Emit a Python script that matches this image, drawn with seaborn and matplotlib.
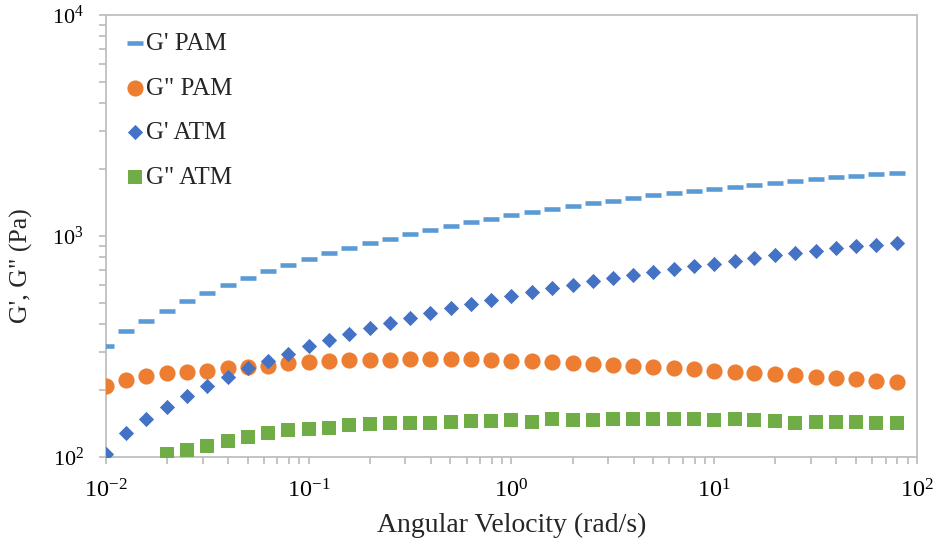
import numpy as np
import pandas as pd
import matplotlib
matplotlib.use("Agg")
import matplotlib.pyplot as plt
import seaborn as sns
from matplotlib.ticker import LogLocator, LogFormatterSciNotation, NullFormatter

# Angular frequency sweep (rad/s), 10 points per decade
omega = [0.01, 0.0126, 0.0158, 0.02, 0.0251, 0.0316, 0.0398, 0.0501, 0.0631, 0.0794,
         0.1, 0.126, 0.158, 0.2, 0.251, 0.316, 0.398, 0.501, 0.631, 0.794,
         1.0, 1.26, 1.58, 2.0, 2.51, 3.16, 3.98, 5.01, 6.31, 7.94,
         10.0, 12.6, 15.8, 20.0, 25.1, 31.6, 39.8, 50.1, 63.1, 79.4]

# Storage modulus G' and loss modulus G'' (Pa)
g1_pam = [319, 370, 414, 459, 506, 551, 598, 646, 694, 742,
          787, 835, 883, 927, 969, 1018, 1064, 1106, 1153, 1194,
          1241, 1280, 1321, 1363, 1406, 1440, 1481, 1528, 1561, 1598,
          1632, 1672, 1707, 1743, 1774, 1811, 1844, 1875, 1902, 1922]
g2_pam = [210, 223, 233, 239, 242, 245, 252, 256, 259, 265,
          270, 272, 274, 276, 276, 277, 279, 277, 277, 275,
          273, 271, 269, 267, 264, 261, 258, 255, 252, 249,
          246, 243, 241, 237, 234, 231, 228, 225, 221, 218]
g1_atm = [103, 129, 149, 169, 189, 210, 231, 252, 273, 294,
          318, 338, 360, 382, 403, 427, 450, 472, 492, 515,
          537, 558, 582, 600, 624, 646, 666, 687, 711, 731,
          749, 773, 798, 818, 835, 858, 880, 898, 913, 930]
# G'' ATM is recorded from 0.02 rad/s onward
g2_atm = [103, 108, 112, 118, 123, 129, 132,
          134, 135, 139, 141, 143, 142, 143, 144, 145, 146, 147,
          144, 148, 147, 147, 149, 149, 149, 148, 148, 147,
          148, 147, 146, 142, 144, 144, 144, 143, 142]

series = [
    ("G' PAM", omega, g1_pam, "#5B9BD5", "_", 125, 3.3),
    ('G" PAM', omega, g2_pam, "#ED7D31", "o", 135, 0),
    ("G' ATM", omega, g1_atm, "#4472C4", "D", 60, 0),
    ('G" ATM', omega[len(omega) - len(g2_atm):], g2_atm, "#70AD47", "s", 112, 0),
]

sns.set_style("white")
plt.rcParams["font.family"] = ["Liberation Serif", "DejaVu Serif"]
plt.rcParams["mathtext.fontset"] = "custom"
plt.rcParams["mathtext.rm"] = "Liberation Serif"
plt.rcParams["axes.unicode_minus"] = False

fig = plt.figure(figsize=(9.35, 5.44), dpi=100)
ax = fig.add_axes([0.1134, 0.1599, 0.8673, 0.8125])

for name, x, y, color, marker, size, lw in series:
    df = pd.DataFrame({"omega": x, "modulus": y})
    sns.scatterplot(data=df, x="omega", y="modulus", ax=ax, color=color,
                    marker=marker, s=size, label=name, zorder=3, linewidth=lw)

ax.set_xscale("log")
ax.set_yscale("log")
ax.set_xlim(1e-2, 1e2)
ax.set_ylim(1e2, 1e4)

grey = "#BFBFBF"
for sp in ax.spines.values():
    sp.set_color(grey)
    sp.set_linewidth(1.3)

for axis in (ax.xaxis, ax.yaxis):
    axis.set_major_locator(LogLocator(base=10))
    axis.set_minor_locator(LogLocator(base=10, subs=np.arange(2, 10)))
    axis.set_major_formatter(LogFormatterSciNotation())
    axis.set_minor_formatter(NullFormatter())

ax.tick_params(which="both", direction="out", length=5, width=1.3, color=grey,
               top=False, right=False, bottom=True, left=True)
ax.tick_params(axis="x", which="major", labelsize=17.5, pad=11, labelcolor="black")
ax.tick_params(axis="y", which="major", labelsize=16, pad=11, labelcolor="black")

ax.set_xlabel("Angular Velocity (rad/s)", fontsize=20)
ax.xaxis.set_label_coords(0.5, -0.127)
ax.set_ylabel('G\', G" (Pa)', fontsize=18.5)
ax.yaxis.set_label_coords(-0.09, 0.434)

leg = ax.legend(loc="upper left", bbox_to_anchor=(0.005, 1.0), frameon=False,
                fontsize=18, labelspacing=0.88, handlelength=0.6,
                handletextpad=0.15, borderaxespad=0.3, scatterpoints=1)

fig.savefig("out.png", dpi=100)
